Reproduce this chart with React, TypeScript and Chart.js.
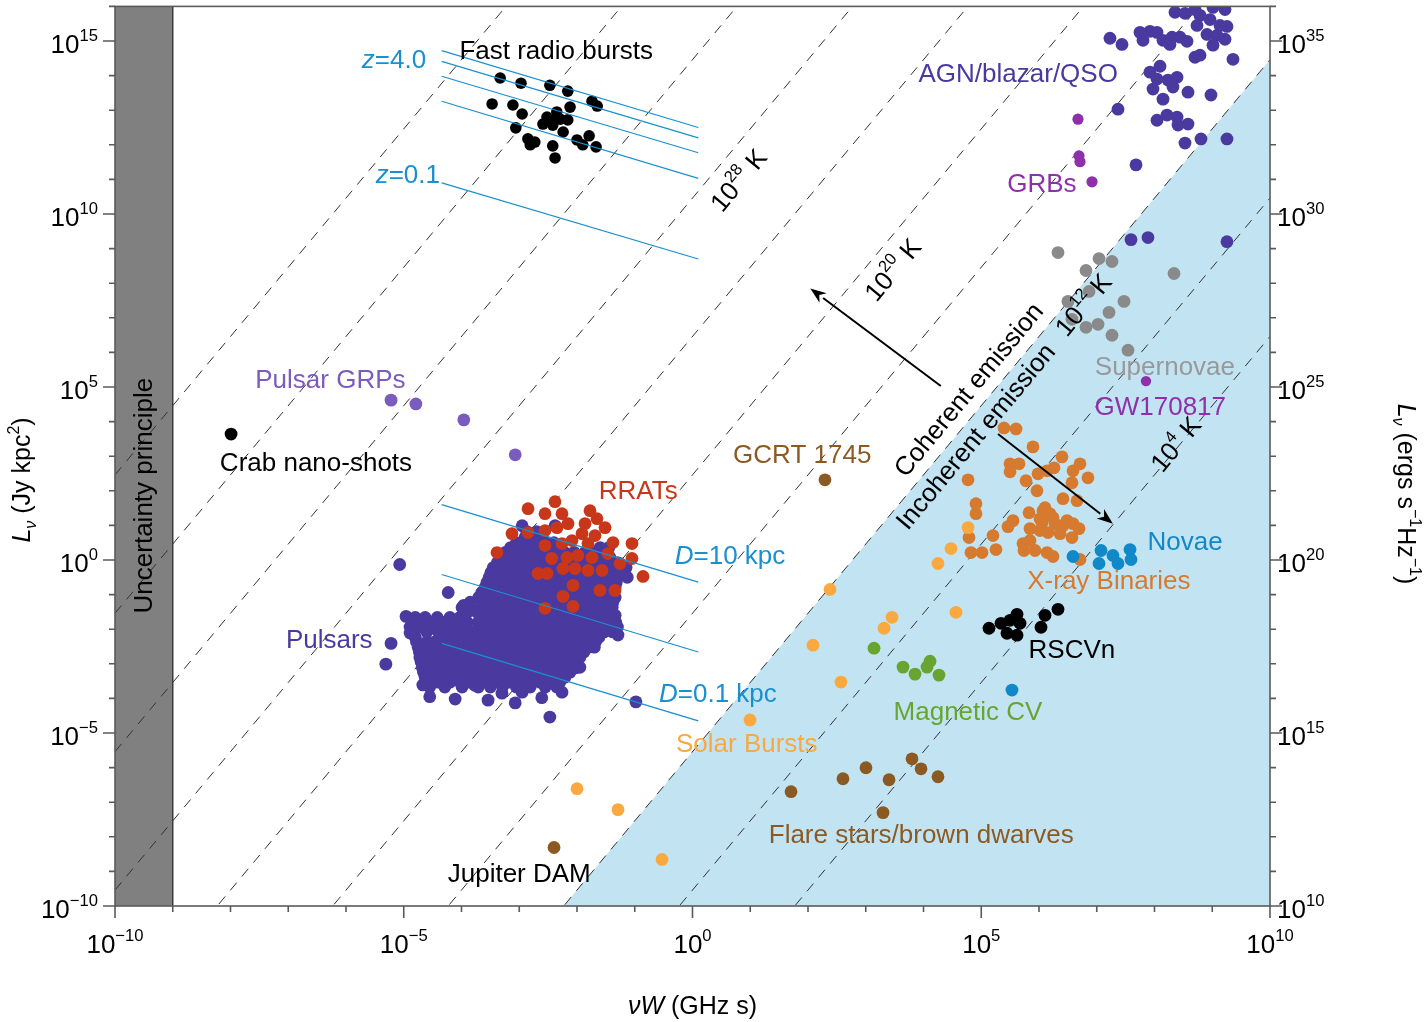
import React, { useEffect, useRef } from "react";
import { Chart, registerables } from "chart.js";
Chart.register(...registerables);

const W = 1425;
const H = 1022;
const FAMILY = '"Liberation Sans", Arial, Helvetica, sans-serif';

// axes (exponents of ten)
const X_MIN = -10, X_MAX = 10, Y_MIN = -10, Y_MAX = 16;
const xMajorTicks = [-10, -5, 0, 5, 10];
const yMajorTicks = [-10, -5, 0, 5, 10, 15];
const RIGHT_AXIS_OFFSET = 20; // erg s^-1 Hz^-1 = Jy kpc^2 * 1e20

// brightness temperature lines: L = T (nuW)^2 / 10^TB_CONST
const TB_CONST = 17.54;
const tempLineExps = [4, 8, 12, 16, 20, 24, 28, 32, 36, 40];
const COHERENT_EXP = 12;
const uncertaintyBand = [-10, -9];

// blue sensitivity lines (log10 values)
const sensLineX = [-4.343, 0.1];
const zLines = [[14.72, 12.5], [14.41, 12.2], [13.98, 11.77], [13.26, 11.03], [10.9, 8.7]];
const dLines = [[1.6, -0.64], [-0.42, -2.66], [-2.41, -4.65]];

// ---------- series (log10 nuW, log10 L) ----------
const frb = [[-3.33,13.93],[-2.97,13.78],[-2.47,13.72],[-2.16,13.55],[-3.47,13.18],[-3.11,13.15],[-2.95,12.89],[-1.74,13.26],[-1.65,13.12],[-2.12,13.09],[-2.52,12.8],[-2.35,12.95],[-2.59,12.6],[-2.42,12.57],[-2.16,12.72],[-2.24,12.37],[-3.06,12.49],[-2.85,12.17],[-2.73,12.08],[-2.81,12.0],[-2.42,11.97],[-2.38,11.62],[-2.0,12.14],[-1.9,12.0],[-1.79,12.26],[-1.67,11.94],[-2.47,12.72],[-2.29,12.74]];
const crab = [[-7.99, 3.64]];
const grps = [[-5.22,4.62],[-4.79,4.51],[-3.96,4.05],[-3.07,3.04]];
const agn = [[8.355,15.83],[8.528,15.8],[8.701,15.91],[8.788,15.74],[9.013,15.97],[9.221,15.91],[8.736,15.45],[8.961,15.62],[9.134,15.45],[9.255,15.42],[8.909,15.19],[9.082,15.16],[9.221,15.05],[9.013,14.88],[7.229,15.08],[7.437,14.9],[7.749,15.25],[7.922,15.28],[8.043,15.25],[7.801,15.02],[8.147,15.02],[8.303,15.11],[8.442,15.11],[8.563,14.99],[8.268,14.9],[8.701,14.53],[8.788,14.59],[9.359,14.47],[8.095,14.27],[7.922,14.1],[8.043,13.9],[7.974,13.61],[8.234,13.87],[8.39,13.95],[8.32,13.67],[8.147,13.32],[8.58,13.52],[8.978,13.44],[7.368,13.03],[8.043,12.71],[8.216,12.86],[8.39,12.8],[8.407,12.57],[8.58,12.6],[8.528,12.05],[8.805,12.17],[9.255,12.17],[7.68,11.42],[7.593,9.26],[7.887,9.32],[9.255,9.2]];
const grbs = [[6.675,12.74],[6.693,11.68],[6.71,11.51],[6.918,10.93]];
const gw170817 = [[7.853,5.17]];
const supernovae = [[6.329,8.885],[6.814,8.367],[7.039,8.713],[7.264,8.627],[8.338,8.28],[6.866,7.762],[6.502,7.474],[6.571,6.956],[7.212,7.157],[7.472,7.474],[6.814,6.725],[7.022,6.812],[7.264,6.495],[7.541,6.063]];
const gcrt = [[2.294, 2.318]];
const jupiter = [[-2.398, -8.309]];
const solar = [[2.571,-3.528],[0.996,-4.623],[-2.0,-6.61],[-1.29,-7.215],[-0.528,-8.655],[2.381,-0.85],[2.087,-2.463],[3.455,-1.656],[3.316,-1.973],[4.476,0.331],[4.251,-0.101],[4.771,0.936],[4.563,-1.512]];
const magneticCV = [[3.143,-2.549],[3.645,-3.096],[3.853,-3.298],[4.061,-3.096],[4.113,-2.924],[4.268,-3.327]];
const novae = [[6.589,0.101],[7.074,0.274],[7.039,-0.101],[7.281,0.13],[7.368,-0.101],[7.576,0.302],[7.593,0.014],[5.532,-3.759]];
const rscvn = [[5.134,-1.973],[5.342,-1.829],[5.498,-1.743],[5.619,-1.57],[5.671,-1.829],[5.446,-2.117],[5.619,-2.174],[6.035,-1.944],[6.104,-1.599],[6.329,-1.426]];
const flareStars = [[1.706,-6.696],[2.606,-6.322],[3.004,-6.005],[3.403,-6.351],[3.801,-5.746],[3.957,-6.034],[4.251,-6.264],[3.299,-7.301]];
const xrayBinaries = [[5.394,3.816],[5.602,3.787],[5.896,3.269],[6.398,2.981],[5.498,2.779],[5.654,2.779],[5.498,2.549],[4.771,2.318],[5.775,2.29],[5.983,2.491],[6.139,2.578],[6.26,2.664],[6.589,2.578],[6.71,2.779],[6.848,2.376],[6.571,2.232],[5.965,2.002],[6.416,1.771],[6.658,1.714],[4.909,1.627],[4.909,1.339],[5.827,1.368],[6.104,1.512],[6.19,1.339],[6.052,1.08],[6.277,1.051],[6.416,0.994],[6.589,1.051],[6.693,0.907],[6.571,0.648],[6.364,0.763],[5.844,0.907],[6.017,0.85],[5.55,1.138],[5.463,0.965],[5.203,0.706],[4.788,0.648],[4.822,0.216],[5.013,0.216],[5.255,0.302],[5.723,0.475],[5.74,0.274],[5.931,0.274],[6.139,0.216],[6.242,0.101],[6.71,0.014],[6.069,1.426],[6.242,1.224],[6.485,1.138],[5.844,0.562],[6.156,0.792],[6.017,1.195]];
const rrats = [[-2.381,1.685],[-2.848,1.483],[-2.554,1.339],[-2.26,1.339],[-1.775,1.426],[-1.654,1.195],[-3.126,0.763],[-2.848,0.792],[-2.554,0.85],[-2.346,0.936],[-2.156,1.051],[-1.861,1.051],[-1.515,0.936],[-1.913,0.763],[-1.688,0.706],[-3.385,0.216],[-2.554,0.418],[-2.26,0.475],[-2.087,0.562],[-1.81,0.475],[-1.377,0.504],[-1.048,0.475],[-2.437,0.043],[-2.173,0.072],[-1.983,0.13],[-1.74,0.072],[-1.463,0.187],[-1.255,-0.101],[-1.048,0.043],[-2.675,-0.389],[-2.519,-0.389],[-2.242,-0.245],[-2.035,-0.245],[-1.81,-0.302],[-1.567,-0.302],[-0.857,-0.475],[-2.069,-0.734],[-1.602,-0.878],[-1.342,-0.878],[-2.242,-1.051],[-2.069,-1.339],[-2.554,-1.397]];
// pulsars: rows of [log L, list of log nuW]
const pulsarRows: [number, number[]][] = [
  [0.99, [-2.95, -2.38]],
  [0.82, [-2.87, -2.7]],
  [0.65, [-2.9, -2.75, -2.6]],
  [0.5, [-3.05, -2.88, -2.72, -2.56, -2.4]],
  [0.36, [-3.15, -2.99, -2.82, -2.66, -2.5, -2.33, -1.6, -1.45]],
  [0.22, [-3.24, -3.07, -2.9, -2.74, -2.57, -2.4, -2.22, -2.05, -1.86, -1.69, -1.52]],
  [0.07, [-3.33, -3.16, -2.99, -2.82, -2.64, -2.47, -2.3, -2.12, -1.95, -1.78, -1.6, -1.43]],
  [-0.08, [-3.38, -3.21, -3.04, -2.87, -2.7, -2.53, -2.36, -2.18, -2.01, -1.84, -1.66, -1.49, -1.3]],
  [-0.22, [-3.45, -3.28, -3.1, -2.93, -2.76, -2.58, -2.41, -2.24, -2.06, -1.89, -1.72, -1.54, -1.37, -1.15]],
  [-0.36, [-3.49, -3.31, -3.14, -2.97, -2.8, -2.62, -2.45, -2.28, -2.1, -1.93, -1.76, -1.58, -1.41, -1.22]],
  [-0.5, [-3.52, -3.35, -3.18, -3.0, -2.83, -2.66, -2.48, -2.31, -2.14, -1.96, -1.79, -1.62, -1.44, -1.3, -1.13]],
  [-0.65, [-3.56, -3.39, -3.21, -3.04, -2.87, -2.69, -2.52, -2.35, -2.17, -2.0, -1.83, -1.65, -1.48, -1.32]],
  [-0.79, [-3.59, -3.42, -3.25, -3.07, -2.9, -2.73, -2.55, -2.38, -2.21, -2.03, -1.86, -1.69, -1.51, -1.34]],
  [-0.94, [-3.65, -3.47, -3.3, -3.13, -2.95, -2.78, -2.61, -2.43, -2.26, -2.09, -1.91, -1.74, -1.57, -1.4]],
  [-1.08, [-3.7, -3.52, -3.35, -3.18, -3.0, -2.83, -2.66, -2.48, -2.31, -2.14, -1.96, -1.79, -1.62, -1.44, -1.34]],
  [-1.22, [-3.85, -3.62, -3.44, -3.27, -3.1, -2.92, -2.75, -2.58, -2.4, -2.23, -2.06, -1.88, -1.71, -1.53, -1.38]],
  [-1.37, [-3.99, -3.82, -3.64, -3.47, -3.3, -3.12, -2.95, -2.78, -2.6, -2.43, -2.26, -2.08, -1.91, -1.74, -1.56, -1.39]],
  [-1.51, [-3.9, -3.73, -3.55, -3.38, -3.21, -3.03, -2.86, -2.69, -2.51, -2.34, -2.17, -1.99, -1.82, -1.65, -1.47]],
  [-1.66, [-4.8, -4.63, -4.42, -4.2, -4.03, -3.62, -3.45, -3.28, -3.1, -2.93, -2.76, -2.58, -2.41, -2.24, -2.06, -1.89, -1.72, -1.54, -1.37]],
  [-1.8, [-4.85, -4.67, -4.48, -4.3, -4.12, -3.9, -3.71, -3.53, -3.36, -3.19, -3.01, -2.84, -2.67, -2.49, -2.32, -2.15, -1.97, -1.8, -1.63, -1.45, -1.33]],
  [-1.94, [-4.89, -4.7, -4.5, -4.29, -4.11, -3.94, -3.7, -3.52, -3.35, -3.18, -3.0, -2.83, -2.66, -2.48, -2.31, -2.14, -1.96, -1.79, -1.62, -1.44, -1.3]],
  [-2.08, [-4.85, -4.6, -4.4, -4.2, -4.03, -3.85, -3.6, -3.43, -3.26, -3.09, -2.91, -2.74, -2.57, -2.39, -2.22, -2.05, -1.87, -1.7, -1.53, -1.38]],
  [-2.23, [-4.8, -4.37, -4.2, -4.03, -3.85, -3.68, -3.5, -3.33, -3.16, -2.99, -2.81, -2.64, -2.47, -2.29, -2.12, -1.95, -1.77, -1.62]],
  [-2.37, [-4.78, -4.6, -4.46, -4.29, -4.12, -3.94, -3.77, -3.6, -3.42, -3.25, -3.08, -2.9, -2.73, -2.56, -2.38, -2.21, -2.04, -1.87, -1.68]],
  [-2.52, [-4.75, -4.57, -4.4, -4.22, -4.05, -3.88, -3.7, -3.53, -3.36, -3.18, -3.01, -2.84, -2.66, -2.49, -2.32, -2.14, -1.97, -1.8, -1.7]],
  [-2.66, [-4.73, -4.63, -4.46, -4.29, -4.12, -3.95, -3.77, -3.6, -3.43, -3.25, -3.08, -2.91, -2.74, -2.56, -2.39, -2.21, -2.04, -1.88]],
  [-2.81, [-4.72, -4.54, -4.37, -4.2, -4.03, -3.85, -3.68, -3.5, -3.33, -3.16, -2.99, -2.81, -2.64, -2.47, -2.29, -2.12, -1.95]],
  [-2.95, [-4.7, -4.59, -4.42, -4.25, -4.08, -3.9, -3.73, -3.56, -3.38, -3.21, -3.04, -2.86, -2.69, -2.52, -2.34, -2.17, -2.01]],
  [-3.1, [-4.68, -4.5, -4.33, -4.16, -3.98, -3.81, -3.64, -3.46, -3.29, -3.12, -2.95, -2.77, -2.6, -2.43, -2.25, -2.08, -1.95]],
  [-3.24, [-4.66, -4.55, -4.38, -4.2, -4.03, -3.86, -3.68, -3.51, -3.34, -3.16, -2.99, -2.82, -2.64, -2.47, -2.3, -2.12]],
  [-3.39, [-4.63, -4.46, -4.29, -4.11, -3.94, -3.77, -3.59, -3.42, -3.25, -3.07, -2.9, -2.73, -2.55, -2.38, -2.21]],
  [-3.53, [-4.6, -4.4, -4.2, -4.02, -3.85, -3.68, -3.5, -3.33, -3.16, -2.98, -2.81, -2.64, -2.46, -2.3]],
  [-3.67, [-4.55, -4.29, -3.99, -3.71, -3.5, -3.29, -3.05, -2.81, -2.55, -2.35]],
];
const pulsarOutliers = [[-5.07,-0.13],[-4.23,-0.94],[-4.96,-1.63],[-5.22,-2.41],[-5.31,-3.01],[-0.98,-4.1],[-2.47,-4.54],[-3.07,-4.13],[-4.11,-4.02],[-2.61,-3.98],[-3.54,-4.05],[-4.55,-3.95],
  [-3.96,-1.31],[-4.89,-2.11],[-4.67,-3.61],[-3.77,-3.62],[-2.95,-3.82],[-2.26,-3.82],[-2.03,-3.12],[-1.74,-2.38],[-1.29,-2.17],[-1.34,-1.6],[-3.3,-3.85]];

// colours
const C = {
  pulsar: "#4a3a9f", rrat: "#c9371b", grp: "#7b5bbd", grb: "#8f30ab", sn: "#8a8a8a",
  xrb: "#d67a30", novae: "#1188c8", solar: "#f9a940", mcv: "#68a530", brown: "#8b5a22",
  blue: "#1a8fd0", region: "#c2e4f2", band: "#808080", axis: "#5a5a5a",
};

type Part = { t: string; it?: boolean; sup?: boolean; sub?: boolean };
const ROT = -Math.atan((2 * 34.72) / 57.75);
const sup = (base: string, e: string, rest = ""): Part[] => [{ t: base }, { t: e, sup: true }, ...(rest ? [{ t: rest }] : [])];

const labels: { parts: Part[]; lx: number; ly: number; color: string; rot?: number }[] = [
  { parts: [{ t: "Fast radio bursts" }], lx: -2.36, ly: 14.76, color: "#000" },
  { parts: [{ t: "z", it: true }, { t: "=4.0" }], lx: -5.17, ly: 14.5, color: C.blue },
  { parts: [{ t: "z", it: true }, { t: "=0.1" }], lx: -4.93, ly: 11.16, color: C.blue },
  { parts: [{ t: "AGN/blazar/QSO" }], lx: 5.64, ly: 14.1, color: C.pulsar },
  { parts: [{ t: "GRBs" }], lx: 6.05, ly: 10.9, color: C.grb },
  { parts: sup("10", "28", " K"), lx: 0.79, ly: 10.99, color: "#000", rot: ROT },
  { parts: sup("10", "20", " K"), lx: 3.46, ly: 8.4, color: "#000", rot: ROT },
  { parts: sup("10", "12", " K"), lx: 6.76, ly: 7.39, color: "#000", rot: ROT },
  { parts: sup("10", "4", " K"), lx: 8.36, ly: 3.36, color: "#000", rot: ROT },
  { parts: [{ t: "Coherent emission" }], lx: 4.77, ly: 4.94, color: "#000", rot: ROT },
  { parts: [{ t: "Incoherent emission" }], lx: 4.89, ly: 3.59, color: "#000", rot: ROT },
  { parts: [{ t: "Pulsar GRPs" }], lx: -6.27, ly: 5.23, color: C.grp },
  { parts: [{ t: "Crab nano-shots" }], lx: -6.52, ly: 2.84, color: "#000" },
  { parts: [{ t: "GCRT 1745" }], lx: 1.9, ly: 3.07, color: C.brown },
  { parts: [{ t: "RRATs" }], lx: -0.94, ly: 2.03, color: C.rrat },
  { parts: [{ t: "D", it: true }, { t: "=10 kpc" }], lx: 0.65, ly: 0.16, color: C.blue },
  { parts: [{ t: "Pulsars" }], lx: -6.29, ly: -2.26, color: C.pulsar },
  { parts: [{ t: "D", it: true }, { t: "=0.1 kpc" }], lx: 0.44, ly: -3.82, color: C.blue },
  { parts: [{ t: "Solar Bursts" }], lx: 0.94, ly: -5.29, color: C.solar },
  { parts: [{ t: "Jupiter DAM" }], lx: -3.0, ly: -9.03, color: "#000" },
  { parts: [{ t: "Flare stars/brown dwarves" }], lx: 3.96, ly: -7.91, color: C.brown },
  { parts: [{ t: "Magnetic CV" }], lx: 4.77, ly: -4.36, color: C.mcv },
  { parts: [{ t: "RSCVn" }], lx: 6.57, ly: -2.55, color: "#000" },
  { parts: [{ t: "X-ray Binaries" }], lx: 7.21, ly: -0.56, color: C.xrb },
  { parts: [{ t: "Novae" }], lx: 8.53, ly: 0.56, color: C.novae },
  { parts: [{ t: "Supernovae" }], lx: 8.18, ly: 5.63, color: "#999999" },
  { parts: [{ t: "GW170817" }], lx: 8.1, ly: 4.45, color: C.grb },
  { parts: [{ t: "Uncertainty principle" }], lx: -9.52, ly: 1.86, color: "#000", rot: -Math.PI / 2 },
];

const arrows = [
  { from: [4.3, 5.03], to: [2.04, 7.85] },
  { from: [5.29, 3.64], to: [7.28, 1.05] },
];

const LABEL_SIZE = 26;
const DOT = 6.4;

function drawRich(ctx: CanvasRenderingContext2D, parts: Part[], size: number, x: number, y: number, align: string, rot: number, color: string) {
  const fontOf = (p: Part) => `${p.it ? "italic " : ""}${p.sup || p.sub ? size * 0.64 : size}px ${FAMILY}`;
  ctx.save();
  ctx.translate(x, y);
  ctx.rotate(rot);
  ctx.fillStyle = color;
  ctx.textAlign = "left";
  ctx.textBaseline = "alphabetic";
  const widths = parts.map((p) => { ctx.font = fontOf(p); return ctx.measureText(p.t).width; });
  const total = widths.reduce((a, b) => a + b, 0);
  let cx = align === "left" ? 0 : align === "right" ? -total : -total / 2;
  const base = size * 0.36;
  parts.forEach((p, i) => {
    ctx.font = fontOf(p);
    const dy = p.sup ? -size * 0.46 : p.sub ? size * 0.22 : 0;
    ctx.fillText(p.t, cx, base + dy);
    cx += widths[i];
  });
  ctx.restore();
}

const expLabel = (e: number): Part[] => [{ t: "10" }, { t: e < 0 ? "\u2212" + Math.abs(e) : String(e), sup: true }];

const pt = (p: number[]) => ({ x: 10 ** p[0], y: 10 ** p[1] });

function scatterSet(label: string, pts: number[][], color: string, order: number, r = DOT) {
  return {
    label, data: pts.map(pt), showLine: false, order, clip: 0,
    backgroundColor: color, borderColor: color, pointBackgroundColor: color,
    pointRadius: r, pointHoverRadius: r, pointBorderWidth: 0,
  };
}
function lineSet(label: string, pts: { x: number; y: number }[], color: string, width: number, order: number, extra: any = {}) {
  return {
    label, data: pts, showLine: true, order, clip: 0, borderColor: color, borderWidth: width,
    pointRadius: 0, pointHoverRadius: 0, fill: false, tension: 0, ...extra,
  };
}

const overlayPlugin = {
  id: "overlay",
  afterDatasetsDraw(chart: any) {
    const ctx = chart.ctx as CanvasRenderingContext2D;
    const xs = chart.scales.x, ys = chart.scales.y;
    const px = (e: number) => xs.getPixelForValue(10 ** e);
    const py = (e: number) => ys.getPixelForValue(10 ** e);
    ctx.save();
    ctx.strokeStyle = "#000";
    ctx.fillStyle = "#000";
    ctx.lineWidth = 2;
    arrows.forEach((a) => {
      const x1 = px(a.from[0]), y1 = py(a.from[1]), x2 = px(a.to[0]), y2 = py(a.to[1]);
      const ang = Math.atan2(y2 - y1, x2 - x1);
      const hl = 16, hw = 6;
      const bx = x2 - hl * Math.cos(ang), by = y2 - hl * Math.sin(ang);
      ctx.beginPath(); ctx.moveTo(x1, y1); ctx.lineTo(bx, by); ctx.stroke();
      ctx.beginPath();
      ctx.moveTo(x2, y2);
      ctx.lineTo(bx + hw * Math.sin(ang), by - hw * Math.cos(ang));
      ctx.lineTo(x2 - hl * 0.7 * Math.cos(ang), y2 - hl * 0.7 * Math.sin(ang));
      ctx.lineTo(bx - hw * Math.sin(ang), by + hw * Math.cos(ang));
      ctx.closePath(); ctx.fill();
    });
    ctx.restore();
    labels.forEach((l) => drawRich(ctx, l.parts, LABEL_SIZE, px(l.lx), py(l.ly), "center", l.rot || 0, l.color));
  },
  afterDraw(chart: any) {
    const ctx = chart.ctx as CanvasRenderingContext2D;
    const { left, right, top, bottom } = chart.chartArea;
    const xs = chart.scales.x, ys = chart.scales.y;
    ctx.save();
    ctx.strokeStyle = C.axis;
    ctx.lineWidth = 1.6;
    ctx.strokeRect(left, top, right - left, bottom - top);
    ctx.beginPath();
    for (let e = X_MIN; e <= X_MAX; e++) {
      const x = xs.getPixelForValue(10 ** e);
      const len = xMajorTicks.includes(e) ? 12 : 6;
      ctx.moveTo(x, bottom); ctx.lineTo(x, bottom + len);
    }
    for (let e = Y_MIN; e <= Y_MAX; e++) {
      const y = ys.getPixelForValue(10 ** e);
      const len = yMajorTicks.includes(e) ? 12 : 6;
      ctx.moveTo(left, y); ctx.lineTo(left - len, y);
      ctx.moveTo(right, y); ctx.lineTo(right + len, y);
    }
    ctx.stroke();
    ctx.restore();
    xMajorTicks.forEach((e) => drawRich(ctx, expLabel(e), LABEL_SIZE, xs.getPixelForValue(10 ** e), 944, "center", 0, "#000"));
    yMajorTicks.forEach((e) => {
      const y = ys.getPixelForValue(10 ** e);
      drawRich(ctx, expLabel(e), LABEL_SIZE, left - 17, y + 3, "right", 0, "#000");
      drawRich(ctx, expLabel(e + RIGHT_AXIS_OFFSET), LABEL_SIZE, right + 7, y + 3, "left", 0, "#000");
    });
    drawRich(ctx, [{ t: "\u03bd", it: true }, { t: "W", it: true }, { t: " (GHz s)" }], 25, (left + right) / 2, 1005, "center", 0, "#000");
    drawRich(ctx, [{ t: "L", it: true }, { t: "\u03bd", it: true, sub: true }, { t: " (Jy kpc" }, { t: "2", sup: true }, { t: ")" }], 25, 21, 480, "center", -Math.PI / 2, "#000");
    drawRich(ctx, [{ t: "L", it: true }, { t: "\u03bd", it: true, sub: true }, { t: " (ergs s" }, { t: "\u22121", sup: true }, { t: "Hz" }, { t: "\u22121", sup: true }, { t: ")" }], 25, 1407, 494, "center", Math.PI / 2, "#000");
  },
};

function buildDatasets() {
  const ds: any[] = [];
  const xStartExp = (Y_MIN - COHERENT_EXP + TB_CONST) / 2;
  const yEndExp = COHERENT_EXP + 2 * X_MAX - TB_CONST;
  ds.push(lineSet("incoherent", [{ x: 10 ** xStartExp, y: 10 ** Y_MIN }, { x: 10 ** X_MAX, y: 10 ** yEndExp }], "rgba(0,0,0,0)", 0, 100, { fill: "start", backgroundColor: C.region }));
  ds.push(lineSet("band", [{ x: 10 ** uncertaintyBand[0], y: 10 ** Y_MAX }, { x: 10 ** uncertaintyBand[1], y: 10 ** Y_MAX }], "rgba(0,0,0,0)", 0, 99, { fill: "start", backgroundColor: C.band }));
  ds.push(lineSet("bandEdge", [{ x: 10 ** uncertaintyBand[1], y: 10 ** Y_MIN }, { x: 10 ** uncertaintyBand[1], y: 10 ** Y_MAX }], "#3c3c3c", 1.5, 98));
  tempLineExps.forEach((t) => {
    ds.push(lineSet("T" + t, [{ x: 10 ** X_MIN, y: 10 ** (t + 2 * X_MIN - TB_CONST) }, { x: 10 ** X_MAX, y: 10 ** (t + 2 * X_MAX - TB_CONST) }], "#333333", 1, 90, { borderDash: [10, 8] }));
  });
  const pulsars: number[][] = [];
  pulsarRows.forEach(([ly, xsArr]) => xsArr.forEach((lx) => pulsars.push([lx, ly])));
  pulsarOutliers.forEach((p) => pulsars.push(p));
  ds.push(scatterSet("Pulsars", pulsars, C.pulsar, 50));
  ds.push(scatterSet("RRATs", rrats, C.rrat, 49));
  ds.push(scatterSet("Pulsar GRPs", grps, C.grp, 48));
  ds.push(scatterSet("Crab nano-shots", crab, "#000", 47));
  ds.push(scatterSet("FRBs", frb, "#000", 46, 5.8));
  ds.push(scatterSet("AGN", agn, C.pulsar, 45));
  ds.push(scatterSet("GRBs", grbs, C.grb, 44, 5.6));
  ds.push(scatterSet("Supernovae", supernovae, C.sn, 43));
  ds.push(scatterSet("GW170817", gw170817, C.grb, 42, 5.2));
  ds.push(scatterSet("X-ray Binaries", xrayBinaries, C.xrb, 41));
  ds.push(scatterSet("Novae", novae, C.novae, 40));
  ds.push(scatterSet("Solar Bursts", solar, C.solar, 39));
  ds.push(scatterSet("Magnetic CV", magneticCV, C.mcv, 38));
  ds.push(scatterSet("RSCVn", rscvn, "#000", 37));
  ds.push(scatterSet("Flare stars", flareStars, C.brown, 36));
  ds.push(scatterSet("GCRT 1745", gcrt, C.brown, 35));
  ds.push(scatterSet("Jupiter DAM", jupiter, C.brown, 34));
  zLines.forEach((l, i) => ds.push(lineSet("z" + i, [pt([sensLineX[0], l[0]]), pt([sensLineX[1], l[1]])], C.blue, 1.2, 10)));
  dLines.forEach((l, i) => ds.push(lineSet("D" + i, [pt([sensLineX[0], l[0]]), pt([sensLineX[1], l[1]])], C.blue, 1.2, 10)));
  return ds;
}

export default function App() {
  const ref = useRef<HTMLCanvasElement>(null);
  useEffect(() => {
    if (!ref.current) return;
    const chart = new Chart(ref.current, {
      type: "scatter",
      data: { datasets: buildDatasets() },
      options: {
        animation: false,
        responsive: false,
        devicePixelRatio: 1,
        events: [],
        layout: { padding: { left: 115, right: W - 1270, top: 4, bottom: H - 906 } },
        scales: {
          x: { type: "logarithmic", min: 10 ** X_MIN, max: 10 ** X_MAX, display: false },
          y: { type: "logarithmic", min: 10 ** Y_MIN, max: 10 ** Y_MAX, display: false },
        },
        plugins: { legend: { display: false }, tooltip: { enabled: false } },
      } as any,
      plugins: [overlayPlugin],
    });
    return () => chart.destroy();
  }, []);
  return (
    <div style={{ position: "absolute", left: 0, top: 0, width: W, height: H, background: "#fff" }}>
      <canvas ref={ref} width={W} height={H} style={{ width: W, height: H, display: "block" }} />
    </div>
  );
}
